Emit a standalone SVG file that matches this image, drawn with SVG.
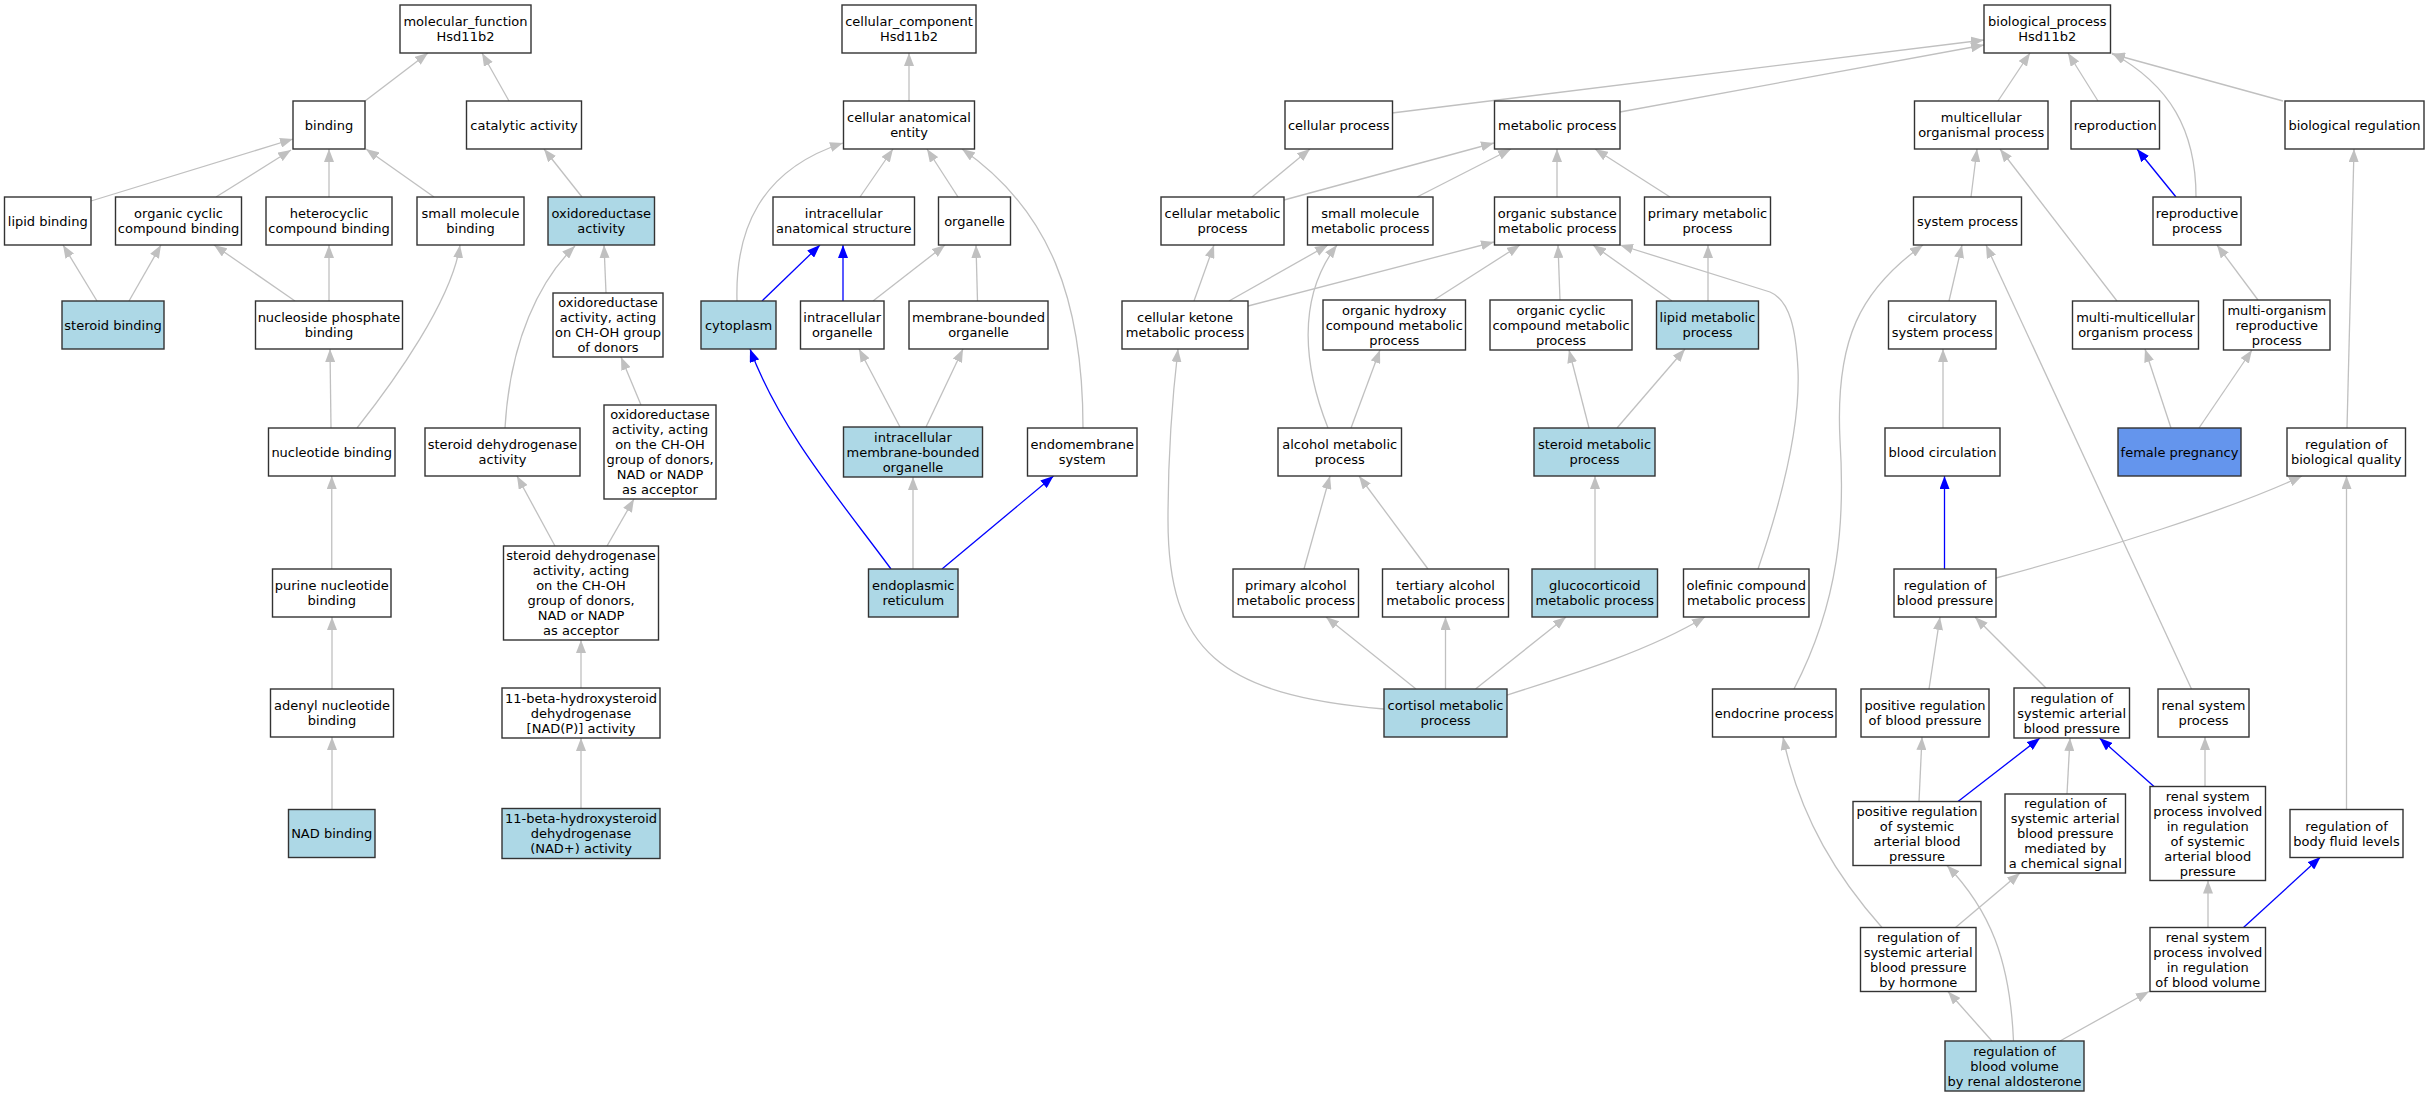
<svg xmlns="http://www.w3.org/2000/svg" width="2429" height="1096" viewBox="0 0 2429 1096">
<style>
.n rect{fill:#ffffff;stroke:#333333;stroke-width:1.4}
.n.f rect{fill:#ADD8E6}
.n.p rect{fill:#6495ED}
text{font-family:"DejaVu Sans","Liberation Sans",sans-serif;font-size:13px;fill:#000000;text-anchor:middle}
.e path{fill:none;stroke:#C0C0C0;stroke-width:1.3;marker-end:url(#ag)}
.e path.b{stroke:#0000FF;marker-end:url(#ab)}
</style>
<defs>
<marker id="ag" markerUnits="userSpaceOnUse" markerWidth="13" markerHeight="10" viewBox="0 0 13 10" refX="13" refY="5" orient="auto"><path d="M0,0 L13,5 L0,10 z" fill="#C0C0C0"/></marker>
<marker id="ab" markerUnits="userSpaceOnUse" markerWidth="13" markerHeight="10" viewBox="0 0 13 10" refX="13" refY="5" orient="auto"><path d="M0,0 L13,5 L0,10 z" fill="#0000FF"/></marker>
</defs>
<rect x="0" y="0" width="2429" height="1096" fill="#ffffff"/>
<g id="connectors" class="e">
<path d="M365,101 L428,53"/>
<path d="M509,101 L482,53"/>
<path d="M91,201 L293,139"/>
<path d="M216,197 L291,150"/>
<path d="M329,197 L329,149"/>
<path d="M434,197 L366,149"/>
<path d="M582,197 L544,149"/>
<path d="M97,301 L63,245"/>
<path d="M129,301 L161,245"/>
<path d="M295,301 L214,245"/>
<path d="M329,301 L329,245"/>
<path d="M606,293 L604,245"/>
<path d="M505,428 C510,340 540,280 575,246"/>
<path d="M331,428 L330,349"/>
<path d="M357,428 C395,380 452,300 460,245"/>
<path d="M331.75,569 L331.75,476"/>
<path d="M332,689 L332,617"/>
<path d="M332,809.5 L332,737"/>
<path d="M555,546 L517,476"/>
<path d="M607,546 L634,499"/>
<path d="M641,405 L621,357"/>
<path d="M581,688 L581,640"/>
<path d="M581,808.5 L581,738"/>
<path d="M909,101 L909,53"/>
<path d="M860,197 L893,149"/>
<path d="M958,197 L927,149"/>
<path d="M737,301 C735,230 760,170 843,143"/>
<path class="b" d="M762,301 L820,245"/>
<path class="b" d="M843,301 L843,245"/>
<path d="M873,301 L945,245"/>
<path d="M977.5,301 L976,245"/>
<path d="M1083,428 C1083,300 1050,210 962,149"/>
<path d="M900,427 L859,349"/>
<path d="M926,427 L963,349"/>
<path d="M913,569 L913,477"/>
<path class="b" d="M942,569 L1053.5,476"/>
<path class="b" d="M891,569 C840,500 780,430 750,349"/>
<path d="M1392,113 L1984,40"/>
<path d="M1620,112 L1984,45"/>
<path d="M1998,101 L2030,53"/>
<path d="M2098,101 L2068,53"/>
<path d="M2196,197 C2196,130 2170,85 2112,53"/>
<path d="M2283,101 L2112,54"/>
<path d="M1252,197 L1310,149"/>
<path d="M1284,200 L1494,143"/>
<path d="M1417,197 L1511,149"/>
<path d="M1557,197 L1557,149"/>
<path d="M1670,197 L1595,149"/>
<path d="M1194,301 L1214,245"/>
<path d="M1229,301 L1328,245"/>
<path d="M1248,306 L1494,242"/>
<path d="M1434,300 L1520,245"/>
<path d="M1560,300 L1558,245"/>
<path d="M1672,301 L1593,245"/>
<path d="M1708,301 L1708,245"/>
<path d="M1758,569 C1785,490 1800,420 1798,370 C1796,330 1790,300 1770,292 L1620,245"/>
<path d="M1328,428 C1305,370 1295,300 1337,245"/>
<path d="M1351,428 L1380,350"/>
<path d="M1589,428 L1569,350"/>
<path d="M1617,428 L1685,349"/>
<path d="M1384,709 C1220,695 1168,650 1168,520 C1168,450 1172,400 1178,349"/>
<path d="M1304,569 L1330,476"/>
<path d="M1428,569 L1359,476"/>
<path d="M1595,569 L1595,476"/>
<path d="M1416,689 L1326,617"/>
<path d="M1445.5,689 L1445.5,617"/>
<path d="M1475.5,689 L1566,617"/>
<path d="M1507,695 C1580,672 1650,650 1705,617"/>
<path d="M1971,197 L1977,149"/>
<path d="M2117,301 L2000,149"/>
<path class="b" d="M2176,197 L2137,149"/>
<path d="M2258,300 L2217,245"/>
<path d="M2347,428 L2354,149"/>
<path d="M1949,301 L1962,245"/>
<path d="M1794,689 C1840,600 1845,520 1840,440 C1835,340 1860,290 1923,245"/>
<path d="M2191.5,689 L1986,245"/>
<path d="M2171,428 L2145,349"/>
<path d="M2199,428 L2252,350"/>
<path d="M1943,428 L1943,349"/>
<path class="b" d="M1944.5,569 L1944.5,476"/>
<path d="M1996,578 C2100,550 2230,510 2302,476"/>
<path d="M2346.5,809.5 L2346.5,476"/>
<path d="M1929,689 L1940,617"/>
<path d="M2046,688 L1975,617"/>
<path d="M2205,786.5 L2205,737"/>
<path class="b" d="M1958,801.5 L2040,738"/>
<path d="M2067,794 L2070,738"/>
<path class="b" d="M2154,786.5 L2099.5,738"/>
<path d="M1919,801.5 L1922,737"/>
<path d="M1882,927.5 C1840,880 1800,820 1783,737"/>
<path d="M1955.5,927.5 L2020,873"/>
<path d="M2208,927.5 L2208,880.5"/>
<path class="b" d="M2243.5,927.5 L2320.5,857"/>
<path d="M1992,1041 L1948,991.5"/>
<path d="M2013.5,1041 C2010,960 1990,910 1947,865.5"/>
<path d="M2060,1041 L2149,991.5"/>
</g>
<g id="mf_root" class="n"><rect x="400" y="5" width="131" height="48"/><text><tspan x="465.5" y="26">molecular_function</tspan><tspan x="465.5" y="41">Hsd11b2</tspan></text></g>
<g id="binding" class="n"><rect x="293" y="101" width="72" height="48"/><text x="329" y="129.5">binding</text></g>
<g id="catalytic_activity" class="n"><rect x="466.5" y="101" width="115" height="48"/><text x="524" y="129.5">catalytic activity</text></g>
<g id="lipid_binding" class="n"><rect x="4.5" y="197" width="86.5" height="48"/><text x="47.75" y="225.5">lipid binding</text></g>
<g id="organic_cyclic_compound_binding" class="n"><rect x="115.5" y="197" width="126" height="48"/><text><tspan x="178.5" y="218">organic cyclic</tspan><tspan x="178.5" y="233">compound binding</tspan></text></g>
<g id="heterocyclic_compound_binding" class="n"><rect x="266" y="197" width="126" height="48"/><text><tspan x="329" y="218">heterocyclic</tspan><tspan x="329" y="233">compound binding</tspan></text></g>
<g id="small_molecule_binding" class="n"><rect x="417" y="197" width="107" height="48"/><text><tspan x="470.5" y="218">small molecule</tspan><tspan x="470.5" y="233">binding</tspan></text></g>
<g id="oxidoreductase_activity" class="n f"><rect x="548" y="197" width="106.5" height="48"/><text><tspan x="601.25" y="218">oxidoreductase</tspan><tspan x="601.25" y="233">activity</tspan></text></g>
<g id="steroid_binding" class="n f"><rect x="62" y="301" width="102" height="48"/><text x="113" y="329.5">steroid binding</text></g>
<g id="nucleoside_phosphate_binding" class="n"><rect x="255.5" y="301" width="147" height="48"/><text><tspan x="329" y="322">nucleoside phosphate</tspan><tspan x="329" y="337">binding</tspan></text></g>
<g id="oxidoreductase_chOH" class="n"><rect x="553" y="293" width="110" height="64"/><text><tspan x="608" y="307">oxidoreductase</tspan><tspan x="608" y="322">activity, acting</tspan><tspan x="608" y="337">on CH-OH group</tspan><tspan x="608" y="352">of donors</tspan></text></g>
<g id="nucleotide_binding" class="n"><rect x="268.5" y="428" width="126.5" height="48"/><text x="331.75" y="456.5">nucleotide binding</text></g>
<g id="steroid_dehydrogenase_activity" class="n"><rect x="425" y="428" width="155" height="48"/><text><tspan x="502.5" y="449">steroid dehydrogenase</tspan><tspan x="502.5" y="464">activity</tspan></text></g>
<g id="oxidoreductase_nad" class="n"><rect x="604" y="405" width="112" height="94"/><text><tspan x="660" y="419">oxidoreductase</tspan><tspan x="660" y="434">activity, acting</tspan><tspan x="660" y="449">on the CH-OH</tspan><tspan x="660" y="464">group of donors,</tspan><tspan x="660" y="479">NAD or NADP</tspan><tspan x="660" y="494">as acceptor</tspan></text></g>
<g id="purine_nucleotide_binding" class="n"><rect x="272.5" y="569" width="118.5" height="48"/><text><tspan x="331.75" y="590">purine nucleotide</tspan><tspan x="331.75" y="605">binding</tspan></text></g>
<g id="steroid_dehydrogenase_acting" class="n"><rect x="503.5" y="546" width="155" height="94"/><text><tspan x="581" y="560">steroid dehydrogenase</tspan><tspan x="581" y="575">activity, acting</tspan><tspan x="581" y="590">on the CH-OH</tspan><tspan x="581" y="605">group of donors,</tspan><tspan x="581" y="620">NAD or NADP</tspan><tspan x="581" y="635">as acceptor</tspan></text></g>
<g id="adenyl_nucleotide_binding" class="n"><rect x="270.5" y="689" width="123" height="48"/><text><tspan x="332" y="710">adenyl nucleotide</tspan><tspan x="332" y="725">binding</tspan></text></g>
<g id="hsd_nadp" class="n"><rect x="502" y="688" width="158" height="50"/><text><tspan x="581" y="702.5">11-beta-hydroxysteroid</tspan><tspan x="581" y="717.5">dehydrogenase</tspan><tspan x="581" y="732.5">[NAD(P)] activity</tspan></text></g>
<g id="nad_binding" class="n f"><rect x="288.5" y="809.5" width="86.5" height="48"/><text x="331.75" y="838">NAD binding</text></g>
<g id="hsd_nadplus" class="n f"><rect x="502" y="808.5" width="158" height="50"/><text><tspan x="581" y="823">11-beta-hydroxysteroid</tspan><tspan x="581" y="838">dehydrogenase</tspan><tspan x="581" y="853">(NAD+) activity</tspan></text></g>
<g id="cc_root" class="n"><rect x="842" y="5" width="134" height="48"/><text><tspan x="909" y="26">cellular_component</tspan><tspan x="909" y="41">Hsd11b2</tspan></text></g>
<g id="cellular_anatomical_entity" class="n"><rect x="843.5" y="101" width="131" height="48"/><text><tspan x="909" y="122">cellular anatomical</tspan><tspan x="909" y="137">entity</tspan></text></g>
<g id="intracellular_anatomical_structure" class="n"><rect x="773" y="197" width="141.5" height="48"/><text><tspan x="843.75" y="218">intracellular</tspan><tspan x="843.75" y="233">anatomical structure</tspan></text></g>
<g id="organelle" class="n"><rect x="938.5" y="197" width="72" height="48"/><text x="974.5" y="225.5">organelle</text></g>
<g id="cytoplasm" class="n f"><rect x="701" y="301" width="75" height="48"/><text x="738.5" y="329.5">cytoplasm</text></g>
<g id="intracellular_organelle" class="n"><rect x="800.5" y="301" width="83.5" height="48"/><text><tspan x="842.25" y="322">intracellular</tspan><tspan x="842.25" y="337">organelle</tspan></text></g>
<g id="membrane_bounded_organelle" class="n"><rect x="909" y="301" width="139" height="48"/><text><tspan x="978.5" y="322">membrane-bounded</tspan><tspan x="978.5" y="337">organelle</tspan></text></g>
<g id="intracellular_membrane_bounded_organelle" class="n f"><rect x="843.5" y="427" width="139" height="50"/><text><tspan x="913" y="441.5">intracellular</tspan><tspan x="913" y="456.5">membrane-bounded</tspan><tspan x="913" y="471.5">organelle</tspan></text></g>
<g id="endomembrane_system" class="n"><rect x="1027.5" y="428" width="109.5" height="48"/><text><tspan x="1082.25" y="449">endomembrane</tspan><tspan x="1082.25" y="464">system</tspan></text></g>
<g id="endoplasmic_reticulum" class="n f"><rect x="868.5" y="569" width="89.5" height="48"/><text><tspan x="913.25" y="590">endoplasmic</tspan><tspan x="913.25" y="605">reticulum</tspan></text></g>
<g id="bp_root" class="n"><rect x="1984" y="5" width="126.5" height="48"/><text><tspan x="2047.25" y="26">biological_process</tspan><tspan x="2047.25" y="41">Hsd11b2</tspan></text></g>
<g id="cellular_process" class="n"><rect x="1285" y="101" width="107.5" height="48"/><text x="1338.75" y="129.5">cellular process</text></g>
<g id="metabolic_process" class="n"><rect x="1494.5" y="101" width="125.5" height="48"/><text x="1557.25" y="129.5">metabolic process</text></g>
<g id="multicellular_organismal_process" class="n"><rect x="1914.5" y="101" width="133.5" height="48"/><text><tspan x="1981.25" y="122">multicellular</tspan><tspan x="1981.25" y="137">organismal process</tspan></text></g>
<g id="reproduction" class="n"><rect x="2071" y="101" width="88.5" height="48"/><text x="2115.25" y="129.5">reproduction</text></g>
<g id="biological_regulation" class="n"><rect x="2285" y="101" width="139" height="48"/><text x="2354.5" y="129.5">biological regulation</text></g>
<g id="cellular_metabolic_process" class="n"><rect x="1161" y="197" width="123" height="48"/><text><tspan x="1222.5" y="218">cellular metabolic</tspan><tspan x="1222.5" y="233">process</tspan></text></g>
<g id="small_molecule_metabolic_process" class="n"><rect x="1307.5" y="197" width="125.5" height="48"/><text><tspan x="1370.25" y="218">small molecule</tspan><tspan x="1370.25" y="233">metabolic process</tspan></text></g>
<g id="organic_substance_metabolic_process" class="n"><rect x="1494.5" y="197" width="125.5" height="48"/><text><tspan x="1557.25" y="218">organic substance</tspan><tspan x="1557.25" y="233">metabolic process</tspan></text></g>
<g id="primary_metabolic_process" class="n"><rect x="1644.5" y="197" width="126" height="48"/><text><tspan x="1707.5" y="218">primary metabolic</tspan><tspan x="1707.5" y="233">process</tspan></text></g>
<g id="system_process" class="n"><rect x="1913.5" y="197" width="108" height="48"/><text x="1967.5" y="225.5">system process</text></g>
<g id="reproductive_process" class="n"><rect x="2153" y="197" width="88" height="48"/><text><tspan x="2197" y="218">reproductive</tspan><tspan x="2197" y="233">process</tspan></text></g>
<g id="cellular_ketone_metabolic_process" class="n"><rect x="1122" y="301" width="126" height="48"/><text><tspan x="1185" y="322">cellular ketone</tspan><tspan x="1185" y="337">metabolic process</tspan></text></g>
<g id="organic_hydroxy_compound_metabolic_process" class="n"><rect x="1323" y="300" width="142.5" height="50"/><text><tspan x="1394.25" y="314.5">organic hydroxy</tspan><tspan x="1394.25" y="329.5">compound metabolic</tspan><tspan x="1394.25" y="344.5">process</tspan></text></g>
<g id="organic_cyclic_compound_metabolic_process" class="n"><rect x="1490" y="300" width="142" height="50"/><text><tspan x="1561" y="314.5">organic cyclic</tspan><tspan x="1561" y="329.5">compound metabolic</tspan><tspan x="1561" y="344.5">process</tspan></text></g>
<g id="lipid_metabolic_process" class="n f"><rect x="1656.5" y="301" width="102" height="48"/><text><tspan x="1707.5" y="322">lipid metabolic</tspan><tspan x="1707.5" y="337">process</tspan></text></g>
<g id="circulatory_system_process" class="n"><rect x="1888.5" y="301" width="107.5" height="48"/><text><tspan x="1942.25" y="322">circulatory</tspan><tspan x="1942.25" y="337">system process</tspan></text></g>
<g id="multi_multicellular_organism_process" class="n"><rect x="2072.5" y="301" width="126" height="48"/><text><tspan x="2135.5" y="322">multi-multicellular</tspan><tspan x="2135.5" y="337">organism process</tspan></text></g>
<g id="multi_organism_reproductive_process" class="n"><rect x="2223.5" y="300" width="106.5" height="50"/><text><tspan x="2276.75" y="314.5">multi-organism</tspan><tspan x="2276.75" y="329.5">reproductive</tspan><tspan x="2276.75" y="344.5">process</tspan></text></g>
<g id="alcohol_metabolic_process" class="n"><rect x="1278" y="428" width="123.5" height="48"/><text><tspan x="1339.75" y="449">alcohol metabolic</tspan><tspan x="1339.75" y="464">process</tspan></text></g>
<g id="steroid_metabolic_process" class="n f"><rect x="1534" y="428" width="121" height="48"/><text><tspan x="1594.5" y="449">steroid metabolic</tspan><tspan x="1594.5" y="464">process</tspan></text></g>
<g id="blood_circulation" class="n"><rect x="1885" y="428" width="115" height="48"/><text x="1942.5" y="456.5">blood circulation</text></g>
<g id="female_pregnancy" class="n p"><rect x="2118" y="428" width="123" height="48"/><text x="2179.5" y="456.5">female pregnancy</text></g>
<g id="regulation_of_biological_quality" class="n"><rect x="2287" y="428" width="118.5" height="48"/><text><tspan x="2346.25" y="449">regulation of</tspan><tspan x="2346.25" y="464">biological quality</tspan></text></g>
<g id="primary_alcohol_metabolic_process" class="n"><rect x="1233" y="569" width="125.5" height="48"/><text><tspan x="1295.75" y="590">primary alcohol</tspan><tspan x="1295.75" y="605">metabolic process</tspan></text></g>
<g id="tertiary_alcohol_metabolic_process" class="n"><rect x="1382.5" y="569" width="126" height="48"/><text><tspan x="1445.5" y="590">tertiary alcohol</tspan><tspan x="1445.5" y="605">metabolic process</tspan></text></g>
<g id="glucocorticoid_metabolic_process" class="n f"><rect x="1532" y="569" width="125.5" height="48"/><text><tspan x="1594.75" y="590">glucocorticoid</tspan><tspan x="1594.75" y="605">metabolic process</tspan></text></g>
<g id="olefinic_compound_metabolic_process" class="n"><rect x="1683.5" y="569" width="125.5" height="48"/><text><tspan x="1746.25" y="590">olefinic compound</tspan><tspan x="1746.25" y="605">metabolic process</tspan></text></g>
<g id="regulation_of_blood_pressure" class="n"><rect x="1894" y="569" width="102" height="48"/><text><tspan x="1945" y="590">regulation of</tspan><tspan x="1945" y="605">blood pressure</tspan></text></g>
<g id="cortisol_metabolic_process" class="n f"><rect x="1384" y="689" width="123" height="48"/><text><tspan x="1445.5" y="710">cortisol metabolic</tspan><tspan x="1445.5" y="725">process</tspan></text></g>
<g id="endocrine_process" class="n"><rect x="1712.5" y="689" width="123.5" height="48"/><text x="1774.25" y="717.5">endocrine process</text></g>
<g id="positive_regulation_of_blood_pressure" class="n"><rect x="1861" y="689" width="128" height="48"/><text><tspan x="1925" y="710">positive regulation</tspan><tspan x="1925" y="725">of blood pressure</tspan></text></g>
<g id="regulation_of_systemic_arterial_blood_pressure" class="n"><rect x="2014" y="688" width="115.5" height="50"/><text><tspan x="2071.75" y="702.5">regulation of</tspan><tspan x="2071.75" y="717.5">systemic arterial</tspan><tspan x="2071.75" y="732.5">blood pressure</tspan></text></g>
<g id="renal_system_process" class="n"><rect x="2158" y="689" width="91" height="48"/><text><tspan x="2203.5" y="710">renal system</tspan><tspan x="2203.5" y="725">process</tspan></text></g>
<g id="positive_regulation_of_sabp" class="n"><rect x="1853" y="801.5" width="128" height="64"/><text><tspan x="1917" y="815.5">positive regulation</tspan><tspan x="1917" y="830.5">of systemic</tspan><tspan x="1917" y="845.5">arterial blood</tspan><tspan x="1917" y="860.5">pressure</tspan></text></g>
<g id="regulation_of_sabp_chemical_signal" class="n"><rect x="2005" y="794" width="120.5" height="79"/><text><tspan x="2065.25" y="808">regulation of</tspan><tspan x="2065.25" y="823">systemic arterial</tspan><tspan x="2065.25" y="838">blood pressure</tspan><tspan x="2065.25" y="853">mediated by</tspan><tspan x="2065.25" y="868">a chemical signal</tspan></text></g>
<g id="renal_system_process_sabp" class="n"><rect x="2150" y="786.5" width="115.5" height="94"/><text><tspan x="2207.75" y="800.5">renal system</tspan><tspan x="2207.75" y="815.5">process involved</tspan><tspan x="2207.75" y="830.5">in regulation</tspan><tspan x="2207.75" y="845.5">of systemic</tspan><tspan x="2207.75" y="860.5">arterial blood</tspan><tspan x="2207.75" y="875.5">pressure</tspan></text></g>
<g id="regulation_of_body_fluid_levels" class="n"><rect x="2290" y="809.5" width="113" height="48"/><text><tspan x="2346.5" y="830.5">regulation of</tspan><tspan x="2346.5" y="845.5">body fluid levels</tspan></text></g>
<g id="regulation_of_sabp_by_hormone" class="n"><rect x="1860.5" y="927.5" width="115.5" height="64"/><text><tspan x="1918.25" y="941.5">regulation of</tspan><tspan x="1918.25" y="956.5">systemic arterial</tspan><tspan x="1918.25" y="971.5">blood pressure</tspan><tspan x="1918.25" y="986.5">by hormone</tspan></text></g>
<g id="renal_system_process_blood_volume" class="n"><rect x="2150" y="927.5" width="115.5" height="64"/><text><tspan x="2207.75" y="941.5">renal system</tspan><tspan x="2207.75" y="956.5">process involved</tspan><tspan x="2207.75" y="971.5">in regulation</tspan><tspan x="2207.75" y="986.5">of blood volume</tspan></text></g>
<g id="regulation_of_blood_volume_by_renal_aldosterone" class="n f"><rect x="1945" y="1041" width="139" height="50"/><text><tspan x="2014.5" y="1055.5">regulation of</tspan><tspan x="2014.5" y="1070.5">blood volume</tspan><tspan x="2014.5" y="1085.5">by renal aldosterone</tspan></text></g>
</svg>
